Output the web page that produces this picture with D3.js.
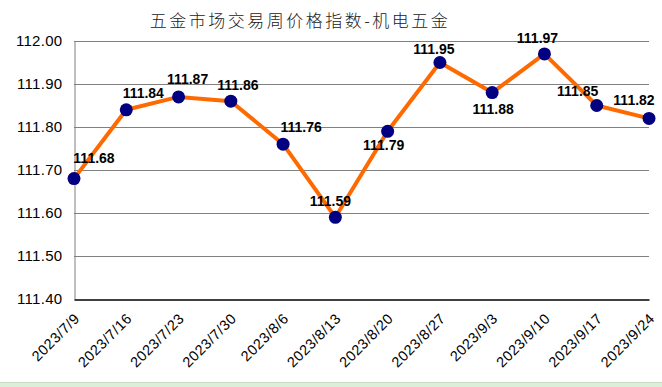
<!DOCTYPE html>
<html>
<head>
<meta charset="utf-8">
<script src="https://cdn.jsdelivr.net/npm/d3@7"></script>
<style>
  body { margin: 0; background: #fff; }
  svg { display: block; font-family: "Liberation Sans", Arial, sans-serif; }
</style>
</head>
<body>
<div id="chart"></div>
<script>
// Weekly price index - electromechanical hardware
const dates = ["2023/7/9", "2023/7/16", "2023/7/23", "2023/7/30", "2023/8/6", "2023/8/13",
  "2023/8/20", "2023/8/27", "2023/9/3", "2023/9/10", "2023/9/17", "2023/9/24"];
const values = [111.68, 111.84, 111.87, 111.86, 111.76, 111.59, 111.79, 111.95, 111.88, 111.97, 111.85, 111.82];
const yTicks = [111.40, 111.50, 111.60, 111.70, 111.80, 111.90, 112.00];

// label offsets (dx, dy) relative to each point
const labelPos = [[20, -16], [17, -12], [9, -13], [7, -11], [18, -12], [-5, -11],
  [-4, 19], [-6, -9], [1, 21], [-7, -11], [-19, -10], [-15, -13]];

const W = 662, H = 387;
const m = { left: 74, right: 649, top: 41, bottom: 299 };

const svg = d3.select("#chart").append("svg")
  .attr("width", W)
  .attr("height", H);

// spreadsheet strip at the bottom
svg.append("rect")
  .attr("x", 0).attr("y", 382).attr("width", W).attr("height", 5)
  .attr("fill", "#dcefd9");
svg.append("line")
  .attr("x1", 0).attr("x2", W).attr("y1", 382.5).attr("y2", 382.5)
  .attr("stroke", "#c8dcc4");

const x = d3.scalePoint()
  .domain(dates)
  .range([m.left, m.right]);

const y = d3.scaleLinear()
  .domain([111.4, 112.0])
  .range([m.bottom, m.top]);

// title
svg.append("text")
  .attr("x", 300)
  .attr("y", 27)
  .attr("text-anchor", "middle")
  .style("font-family", "'Noto Sans CJK SC', sans-serif")
  .style("font-size", "17px")
  .style("font-weight", "300")
  .style("letter-spacing", "2.5px")
  .attr("fill", "#222")
  .text("五金市场交易周价格指数-机电五金");

// gridlines
svg.append("g")
  .selectAll("line")
  .data(yTicks.slice(1))
  .join("line")
  .attr("x1", m.left).attr("x2", m.right)
  .attr("y1", d => Math.round(y(d)) + 0.5)
  .attr("y2", d => Math.round(y(d)) + 0.5)
  .attr("stroke", "#808080");

// y axis
const yAxis = svg.append("g")
  .attr("transform", `translate(${m.left + 0.5},0)`)
  .call(d3.axisLeft(y).tickValues(yTicks).tickFormat(d3.format(".2f")).tickSize(0).tickPadding(12));
yAxis.select(".domain").attr("stroke", "#808080");
yAxis.selectAll("text")
  .style("font-size", "15px")
  .style("letter-spacing", "0.3px")
  .attr("fill", "#000");

// x axis
const xAxis = svg.append("g")
  .attr("transform", `translate(0,${m.bottom + 0.5})`)
  .call(d3.axisBottom(x).tickSize(0).tickPadding(0));
xAxis.select(".domain").attr("stroke", "#000").attr("stroke-width", 1.3);
xAxis.selectAll("text")
  .style("font-size", "14.5px")
  .style("letter-spacing", "0.5px")
  .attr("fill", "#000")
  .style("text-anchor", "end")
  .attr("dy", "0")
  .attr("transform", "translate(6,20) rotate(-45)");

// line
const line = d3.line()
  .x((d, i) => x(dates[i]))
  .y(d => y(d));

svg.append("path")
  .datum(values)
  .attr("d", line)
  .attr("fill", "none")
  .attr("stroke", "#ff6a00")
  .attr("stroke-width", 4)
  .attr("stroke-linejoin", "round");

// points
svg.append("g")
  .selectAll("circle")
  .data(values)
  .join("circle")
  .attr("cx", (d, i) => x(dates[i]))
  .attr("cy", d => y(d))
  .attr("r", 6.5)
  .attr("fill", "#000080");

// value labels
svg.append("g")
  .selectAll("text")
  .data(values)
  .join("text")
  .attr("x", (d, i) => x(dates[i]) + labelPos[i][0])
  .attr("y", (d, i) => y(d) + labelPos[i][1])
  .attr("text-anchor", "middle")
  .style("font-size", "14px")
  .style("font-weight", "bold")
  .attr("fill", "#000")
  .text(d => d.toFixed(2));
</script>
</body>
</html>
